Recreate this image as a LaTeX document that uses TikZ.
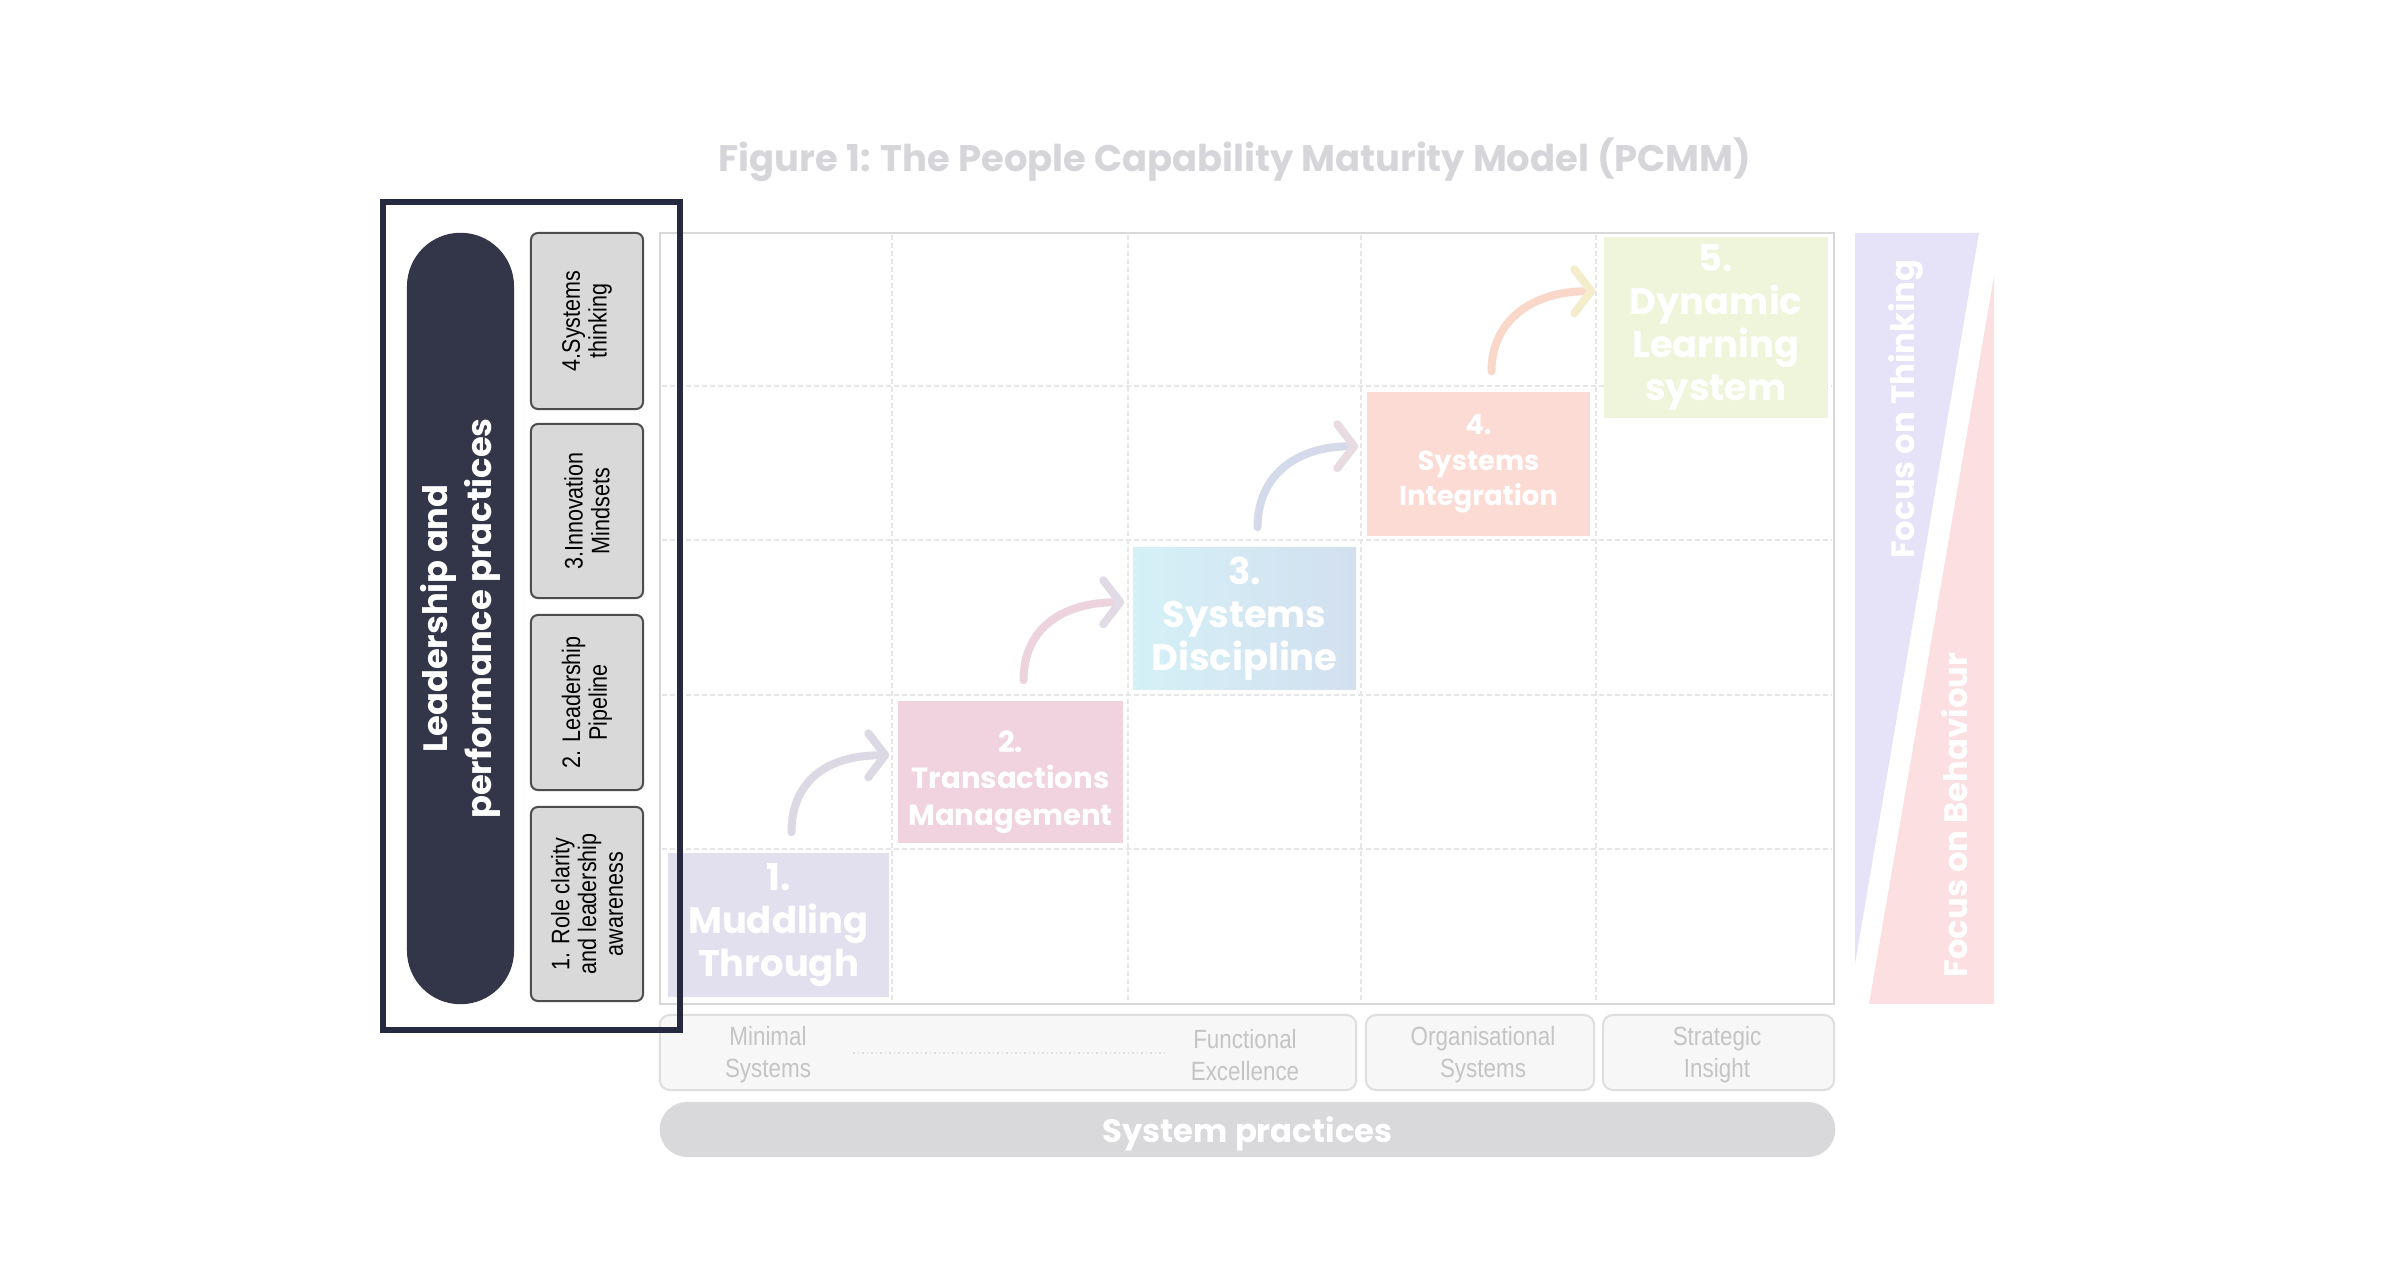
\documentclass[tikz,border=0pt]{standalone}
\usepackage{fontspec}
\setmainfont{Poppins}
\newfontfamily\arialf{Liberation Sans}[FakeStretch=0.85]
\usetikzlibrary{calc}
\definecolor{titlegray}{HTML}{D6D6DA}
\definecolor{navy}{HTML}{262A40}
\definecolor{pillfill}{HTML}{333548}
\definecolor{sbfill}{HTML}{D9D9D9}
\definecolor{sbdraw}{HTML}{4D4D4D}
\definecolor{gridc}{HTML}{D8D8D8}
\definecolor{griddashc}{HTML}{E6E6E6}
\definecolor{cA}{HTML}{E2E0EE}
\definecolor{cB}{HTML}{F0D3DE}
\definecolor{cCa}{HTML}{D4F1F7}
\definecolor{cCb}{HTML}{D3DFEF}
\definecolor{cD}{HTML}{FBDBD4}
\definecolor{cE}{HTML}{EFF5DA}
\definecolor{botfill}{HTML}{F7F7F7}
\definecolor{botdraw}{HTML}{DEDEDE}
\definecolor{bottext}{HTML}{C4C4C4}
\definecolor{spgray}{HTML}{D9D9DC}
\definecolor{triA}{HTML}{E6E3F8}
\definecolor{triB}{HTML}{FCE0E1}
\definecolor{arA}{HTML}{DCD9E4}
\definecolor{arAh}{HTML}{DCD9E4}
\definecolor{arB}{HTML}{ECD3DE}
\definecolor{arBh}{HTML}{E2DBE6}
\definecolor{arC}{HTML}{D5DAEA}
\definecolor{arCh}{HTML}{E8DBE2}
\definecolor{arD}{HTML}{F9D7C9}
\definecolor{arDh}{HTML}{F4EDCB}
\begin{document}
\begin{tikzpicture}[x=0.01cm,y=-0.01cm,
  stagebox/.style={inner sep=0pt, align=center, text=white, font=\bfseries},
  bigtxt/.style={font=\bfseries\fontsize{10.5}{12.2}\selectfont},
  smalltxt/.style={font=\bfseries\fontsize{8.3}{10.3}\selectfont},
  gridline/.style={draw=gridc, line width=0.02cm},
  griddash/.style={draw=griddashc, line width=0.012cm, dash pattern=on 0.05cm off 0.03cm},
  arr/.style={line width=0.08cm, line cap=round, line join=round},
  smallbox/.style={draw=sbdraw, fill=sbfill, line width=0.02cm, rounded corners=0.07cm, inner sep=0pt, align=center, rotate=90, font=\arialf\fontsize{7.2}{7.6}\selectfont},
  botbox/.style={draw=botdraw, fill=botfill, line width=0.02cm, rounded corners=0.1cm, inner sep=0pt},
  botlabel/.style={text=bottext, align=center, inner sep=0pt, font=\arialf\fontsize{7.5}{9.2}\selectfont},
  vtext/.style={rotate=90, text=white, font=\bfseries\fontsize{9.2}{11}\selectfont, inner sep=0pt}]
\useasboundingbox (0,0) rectangle (2400,1280);
\fill[white] (0,0) rectangle (2400,1280);

% title
\node[text=titlegray, font=\bfseries\fontsize{10.5}{12}\selectfont] (title) at (1235,160) {Figure 1: The People Capability Maturity Model (PCMM)};

% grid
\draw[gridline] (660,233) rectangle (1834,1004);
\foreach \x in {892,1128,1361,1596} \draw[griddash] (\x,235) -- (\x,1002);
\foreach \y in {386,540,695,849} \draw[griddash] (662,\y) -- (1832,\y);

% stages
\node[stagebox, bigtxt, fill=cA, minimum width=2.21cm, minimum height=1.44cm] (s1) at (778.5,925) {1.\\Muddling\\Through};
\node[stagebox, fill=cB, minimum width=2.25cm, minimum height=1.42cm] (s2) at (1010.5,772) {};
\node[stagebox, smalltxt] (s2t) at ($(s2)+(0,10)$) {2.\\Transactions\\Management};
\node[stagebox, bigtxt, left color=cCa, right color=cCb, minimum width=2.23cm, minimum height=1.41cm] (s3) at (1244.5,618.5) {3.\\Systems\\Discipline};
\node[stagebox, font=\bfseries\fontsize{7.8}{10}\selectfont, fill=cD, minimum width=2.23cm, minimum height=1.44cm] (s4) at (1478.5,464) {4.\\Systems\\Integration};
\node[stagebox, bigtxt, fill=cE, minimum width=2.24cm, minimum height=1.81cm] (s5) at (1716,327.5) {5.\\Dynamic\\Learning\\system};

% curved arrows
\foreach \p/\n/\c/\h in {s1/s2/arA/arAh, s2/s3/arB/arBh, s3/s4/arC/arCh, s4/s5/arD/arDh}{
  \coordinate (st) at ($(\p.north)+(13,-20)$);
  \coordinate (tp) at ($(\n.north west)+(-12,55)$);
  \draw[arr, draw=\c] (st) .. controls ($(st)+(0,-50)$) and ($(tp)+(-60,0)$) .. ($(tp)+(-4,0)$);
  \draw[arr, draw=\h] ($(tp)+(-17,-22)$) -- (tp) -- ($(tp)+(-17,22)$);
}

% bottom axis labels
\node[botbox, minimum width=6.96cm, minimum height=0.75cm] (bA) at (1008,1052.5) {};
\node[botbox, minimum width=2.28cm, minimum height=0.75cm] (bB) at (1480,1052.5) {};
\node[botbox, minimum width=2.31cm, minimum height=0.75cm] (bC) at (1718.5,1052.5) {};
\node[botlabel] (lmin) at (768,1055) {Minimal\\Systems};
\node[botlabel] (lfun) at (1245,1055) {Functional\\Excellence};
\node[botlabel] (lorg) at (1483,1055) {Organisational\\Systems};
\node[botlabel] (lstr) at (1717,1055) {Strategic\\Insight};
\draw[draw=botdraw, line width=0.015cm, dash pattern=on 0.015cm off 0.03cm] ($(lmin)+(85,-2)$) -- ($(lfun)+(-79,-2)$);

\node[fill=spgray, rounded corners=0.275cm, minimum width=11.75cm, minimum height=0.55cm, inner sep=0pt, text=white, text depth=0pt, font=\bfseries\fontsize{9.2}{10}\selectfont] (sp) at (1247.5,1129.5) {System practices};

% right triangles
\fill[triA] (1855,233) -- (1979,233) -- (1855,964) -- cycle;
\fill[triB] (1994,276) -- (1994,1004) -- (1869,1004) -- cycle;
\node[vtext] (ft) at (1906,409) {Focus on Thinking};
\node[vtext] (fb) at (1955,815) {Focus on Behaviour};

% left panel
\node[fill=pillfill, rotate=90, minimum width=7.71cm, minimum height=1.07cm, rounded corners=0.535cm, inner sep=0pt, align=center, text=white, font=\bfseries\fontsize{9.6}{12.6}\selectfont] (pill) at (460.5,618.5) {Leadership and\\performance practices};
\node[smallbox, minimum width=1.76cm, minimum height=1.12cm] (b4) at (587,321) {4.Systems\\thinking};
\node[smallbox, minimum width=1.74cm, minimum height=1.12cm] (b3) at (587,511) {3.Innovation\\Mindsets};
\node[smallbox, minimum width=1.75cm, minimum height=1.12cm] (b2) at (587,702.5) {2. Leadership\\Pipeline};
\node[smallbox, minimum width=1.94cm, minimum height=1.12cm] (b1) at (587,904) {1. Role clarity\\and leadership\\awareness};
\node[draw=navy, line width=0.06cm, minimum width=2.97cm, minimum height=8.28cm, inner sep=0pt] (frame) at (531.5,616) {};
\end{tikzpicture}
\end{document}
